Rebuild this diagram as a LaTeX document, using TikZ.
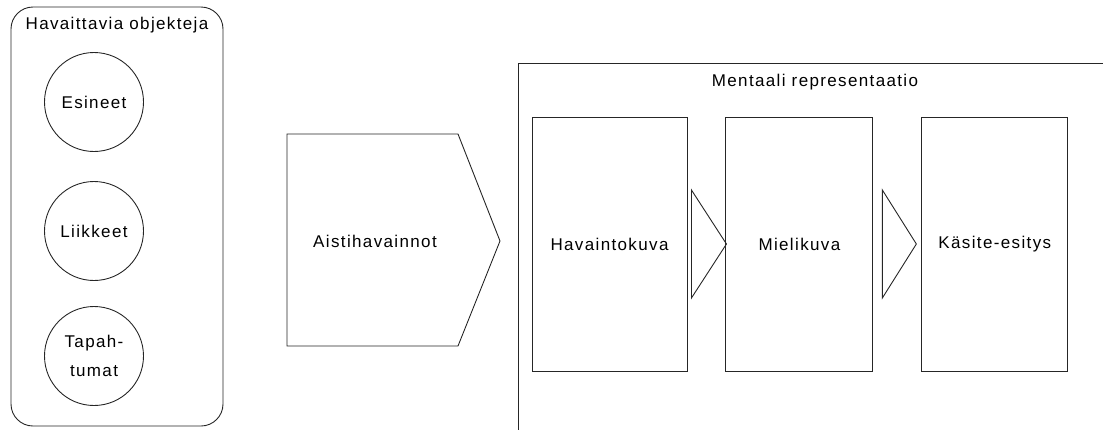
\documentclass[tikz,border=0pt]{standalone}
\usepackage{fontspec}
\setmainfont{Liberation Sans}[LetterSpace=8]
\usetikzlibrary{positioning,calc}

\tikzset{
  lbl/.style={font=\fontsize{17}{29}\selectfont},
  thing/.style={draw,circle,minimum size=99pt,inner sep=0pt,align=center,lbl},
  stage/.style={draw,rectangle,minimum height=254pt,inner sep=0pt,lbl},
}

\begin{document}
\begin{tikzpicture}[x=1pt,y=-1pt,line width=0.9pt,draw=black!85]
  \useasboundingbox (0,0) rectangle (1103,429);

  % observable objects
  \draw[rounded corners=22pt] (11,7) rectangle (223,426);
  \node[lbl] (otsikko) at (117,25) {Havaittavia objekteja};
  \node[thing] (esineet) at (94,102) {Esineet};
  \node[thing] (liikkeet) at (94,231) {Liikkeet};
  \node[thing] (tapahtumat) at (94,356) {Tapah-\\tumat};

  % sensations
  \draw (287,134) -- (458,134) -- (500,241) -- (458,346) -- (287,346) -- cycle;
  \node[lbl] (aisti) at (375,241) {Aistihavainnot};

  % mental representation
  \draw (518,440) -- (518,63) -- (1110,63);
  \node[lbl] (mentaali) at (815,82) {Mentaali representaatio};

  \node[stage,minimum width=155pt] (havainto) at (609.5,244) {Havaintokuva};
  \node[stage,minimum width=147pt,right=38pt of havainto] (mieli) {Mielikuva};
  \node[stage,minimum width=146pt,right=48pt of mieli] (kasite) {Käsite-esitys};

  \draw ($(havainto.east)+(4,-54)$) -- ($(mieli.west)+(1,0)$)
    -- ($(havainto.east)+(4,54)$) -- cycle;
  \draw ($(mieli.east)+(9,-54)$) -- ($(kasite.west)+(-5,0)$)
    -- ($(mieli.east)+(9,54)$) -- cycle;
\end{tikzpicture}
\end{document}
